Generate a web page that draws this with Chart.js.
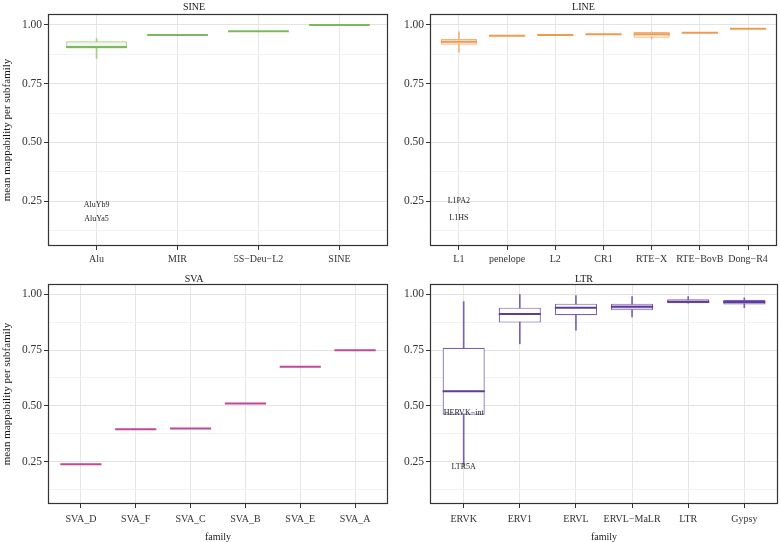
<!DOCTYPE html>
<html>
<head>
<meta charset="utf-8">
<script src="https://cdn.jsdelivr.net/npm/chart.js@4.4.0/dist/chart.umd.min.js"></script>
<style>
  body { margin: 0; background: #fff; width: 780px; height: 542px; position: relative; overflow: hidden; }
  canvas { position: absolute; }
</style>
</head>
<body>
<canvas id="sine" width="390" height="271" style="left:0;top:0"></canvas>
<canvas id="line" width="390" height="271" style="left:390px;top:0"></canvas>
<canvas id="sva" width="390" height="271" style="left:0;top:271px"></canvas>
<canvas id="ltr" width="390" height="271" style="left:390px;top:271px"></canvas>
<script>
// valores (mediana y cuartiles por familia)
const yTickValues = [0.125, 0.25, 0.375, 0.5, 0.625, 0.75, 0.875, 1.0];
const yMin = 0.06;
const yMax = 1.046;

const sineFamilies = ["Alu", "MIR", "5S\u2212Deu\u2212L2", "SINE"];
const sineLow    = [0.857, 0.957, 0.973, 0.999];
const sineQ1     = [0.899, 0.957, 0.973, 0.999];
const sineMedian = [0.906, 0.957, 0.973, 0.999];
const sineQ3     = [0.930, 0.957, 0.973, 0.999];
const sineHigh   = [0.942, 0.957, 0.973, 0.999];
const sineNoteText  = ["AluYb9", "AluYa5"];
const sineNoteValue = [0.236, 0.176];

const lineFamilies = ["L1", "penelope", "L2", "CR1", "RTE\u2212X", "RTE\u2212BovB", "Dong\u2212R4"];
const lineLow    = [0.884, 0.954, 0.957, 0.960, 0.940, 0.966, 0.983];
const lineQ1     = [0.915, 0.954, 0.957, 0.960, 0.945, 0.966, 0.983];
const lineMedian = [0.928, 0.954, 0.957, 0.960, 0.960, 0.966, 0.983];
const lineQ3     = [0.940, 0.954, 0.957, 0.960, 0.970, 0.966, 0.983];
const lineHigh   = [0.970, 0.954, 0.957, 0.960, 0.971, 0.966, 0.983];
const lineNoteText  = ["L1PA2", "L1HS"];
const lineNoteValue = [0.250, 0.180];

const svaFamilies = ["SVA_D", "SVA_F", "SVA_C", "SVA_B", "SVA_E", "SVA_A"];
const svaValues   = [0.238, 0.395, 0.398, 0.510, 0.675, 0.749];

const ltrFamilies = ["ERVK", "ERV1", "ERVL", "ERVL\u2212MaLR", "LTR", "Gypsy"];
const ltrLow    = [0.233, 0.778, 0.839, 0.898, 0.960, 0.940];
const ltrQ1     = [0.460, 0.873, 0.906, 0.928, 0.960, 0.954];
const ltrMedian = [0.565, 0.912, 0.940, 0.944, 0.966, 0.965];
const ltrQ3     = [0.760, 0.940, 0.958, 0.958, 0.978, 0.975];
const ltrHigh   = [0.967, 0.999, 0.994, 0.990, 0.990, 0.984];
const ltrNoteText  = ["HERVK\u2212int", "LTR5A"];
const ltrNoteValue = [0.468, 0.228];

Chart.defaults.font.family = '"Liberation Serif", "DejaVu Serif", serif';

const isMajor = v => Math.abs(v * 4 - Math.round(v * 4)) < 1e-6;

// borde del panel
const framePlugin = {
  id: 'frame',
  afterDraw(chart) {
    const { ctx, chartArea: a } = chart;
    ctx.save();
    ctx.strokeStyle = '#333';
    ctx.lineWidth = 1.2;
    ctx.strokeRect(a.left + 0.5, a.top + 0.5, a.right - a.left - 1, a.bottom - a.top - 1);
    ctx.restore();
  }
};

// etiquetas de los outliers (todas en la primera familia)
const notesPlugin = {
  id: 'notes',
  afterDatasetsDraw(chart, args, opts) {
    if (!opts.text) return;
    const { ctx, scales: { x, y } } = chart;
    ctx.save();
    ctx.font = '8px "Liberation Serif"';
    ctx.fillStyle = '#222';
    ctx.textAlign = 'center';
    ctx.textBaseline = 'middle';
    opts.text.forEach((t, i) => {
      ctx.fillText(t, x.getPixelForValue(0), y.getPixelForValue(opts.values[i]));
    });
    ctx.restore();
  }
};

function makePanel(id, p) {
  const n = p.families.length;
  const unitPx = c => (c.chart.chartArea ? c.chart.scales.x.getPixelForValue(1) - c.chart.scales.x.getPixelForValue(0) : 0);
  const datasets = [
    {
      type: 'bar',
      data: p.low.map((v, i) => ({ x: i, y: [v, p.high[i]] })),
      backgroundColor: p.edge,
      barThickness: 1,
      grouped: false,
      order: 3
    },
    {
      type: 'bar',
      data: p.q1.map((v, i) => ({ x: i, y: [v, p.q3[i]] })),
      backgroundColor: p.q1.map((v, i) => (p.q3[i] - v < 0.04 ? p.tint : '#ffffff')),
      borderColor: p.edge,
      borderWidth: 1.2,
      borderSkipped: false,
      barPercentage: 0.75,
      categoryPercentage: 1,
      grouped: false,
      order: 2
    },
    {
      type: 'line',
      data: p.median.map((v, i) => ({ x: i, y: v })),
      showLine: false,
      pointStyle: 'line',
      pointRadius: c => unitPx(c) * 0.375,
      pointBorderWidth: 2,
      pointBorderColor: p.dark,
      borderColor: p.dark,
      order: 1
    }
  ];

  return new Chart(document.getElementById(id), {
    type: 'bar',
    data: { datasets },
    options: {
      responsive: false,
      animation: false,
      events: [],
      layout: { padding: { left: 0, right: p.right, top: 0, bottom: 0 } },
      plugins: {
        legend: { display: false },
        tooltip: { enabled: false },
        title: {
          display: true,
          text: p.title,
          color: '#1a1a1a',
          font: { size: 10, lineHeight: p.bottomRow ? 1.0 : 1.2, weight: 'normal' },
          padding: p.bottomRow ? { top: 3, bottom: 0 } : { top: 1, bottom: 1 }
        },
        notes: { text: p.noteText, values: p.noteValue }
      },
      scales: {
        x: {
          type: 'linear',
          offset: false,
          min: -0.6,
          max: n - 0.4,
          afterBuildTicks: s => { s.ticks = p.families.map((f, i) => ({ value: i })); },
          grid: { offset: false, color: '#e6e6e6', tickColor: '#333', tickLength: 4, lineWidth: 1 },
          border: { display: false },
          ticks: {
            autoSkip: false, maxRotation: 0, minRotation: 0,
            color: '#333', font: { size: 10 },
            padding: p.bottomRow ? 5 : 3,
            callback: v => p.families[v]
          },
          title: {
            display: p.bottomRow,
            text: 'family',
            color: '#1a1a1a',
            font: { size: 10, lineHeight: 1.0 },
            padding: 0
          },
          afterFit: s => { s.height = p.bottomRow ? 38 : 25; }
        },
        y: {
          min: yMin,
          max: yMax,
          afterBuildTicks: s => { s.ticks = yTickValues.map(v => ({ value: v })); },
          grid: {
            color: c => (c.tick && isMajor(c.tick.value) ? '#e3e3e3' : '#f2f2f2'),
            tickColor: c => (c.tick && isMajor(c.tick.value) ? '#333' : 'rgba(0,0,0,0)'),
            tickLength: 4
          },
          border: { display: false },
          ticks: {
            color: '#333',
            font: { size: 11.5 },
            padding: 2,
            callback: v => (isMajor(v) ? v.toFixed(2) : '')
          },
          title: {
            display: p.leftCol,
            text: 'mean mappability per subfamily',
            color: '#1a1a1a',
            font: { size: 11, lineHeight: 1.3 },
            padding: 0
          },
          afterFit: s => { s.width = p.leftCol ? 48 : 40; }
        }
      }
    },
    plugins: [framePlugin, notesPlugin]
  });
}

makePanel('sine', {
  title: 'SINE', families: sineFamilies,
  low: sineLow, q1: sineQ1, median: sineMedian, q3: sineQ3, high: sineHigh,
  noteText: sineNoteText, noteValue: sineNoteValue,
  edge: '#a3cd88', dark: '#7db85c', tint: '#f0f7ea',
  leftCol: true, bottomRow: false, right: 2
});

makePanel('line', {
  title: 'LINE', families: lineFamilies,
  low: lineLow, q1: lineQ1, median: lineMedian, q3: lineQ3, high: lineHigh,
  noteText: lineNoteText, noteValue: lineNoteValue,
  edge: '#f2b27a', dark: '#ef9a4c', tint: '#fcebdb',
  leftCol: false, bottomRow: false, right: 3
});

makePanel('sva', {
  title: 'SVA', families: svaFamilies,
  low: svaValues, q1: svaValues, median: svaValues, q3: svaValues, high: svaValues,
  noteText: null, noteValue: null,
  edge: '#c9559f', dark: '#c2479b', tint: '#f3d5e8',
  leftCol: true, bottomRow: true, right: 2
});

makePanel('ltr', {
  title: 'LTR', families: ltrFamilies,
  low: ltrLow, q1: ltrQ1, median: ltrMedian, q3: ltrQ3, high: ltrHigh,
  noteText: ltrNoteText, noteValue: ltrNoteValue,
  edge: '#7d60b3', dark: '#5e3c99', tint: '#ddd2ee',
  leftCol: false, bottomRow: true, right: 2
});
</script>
</body>
</html>
